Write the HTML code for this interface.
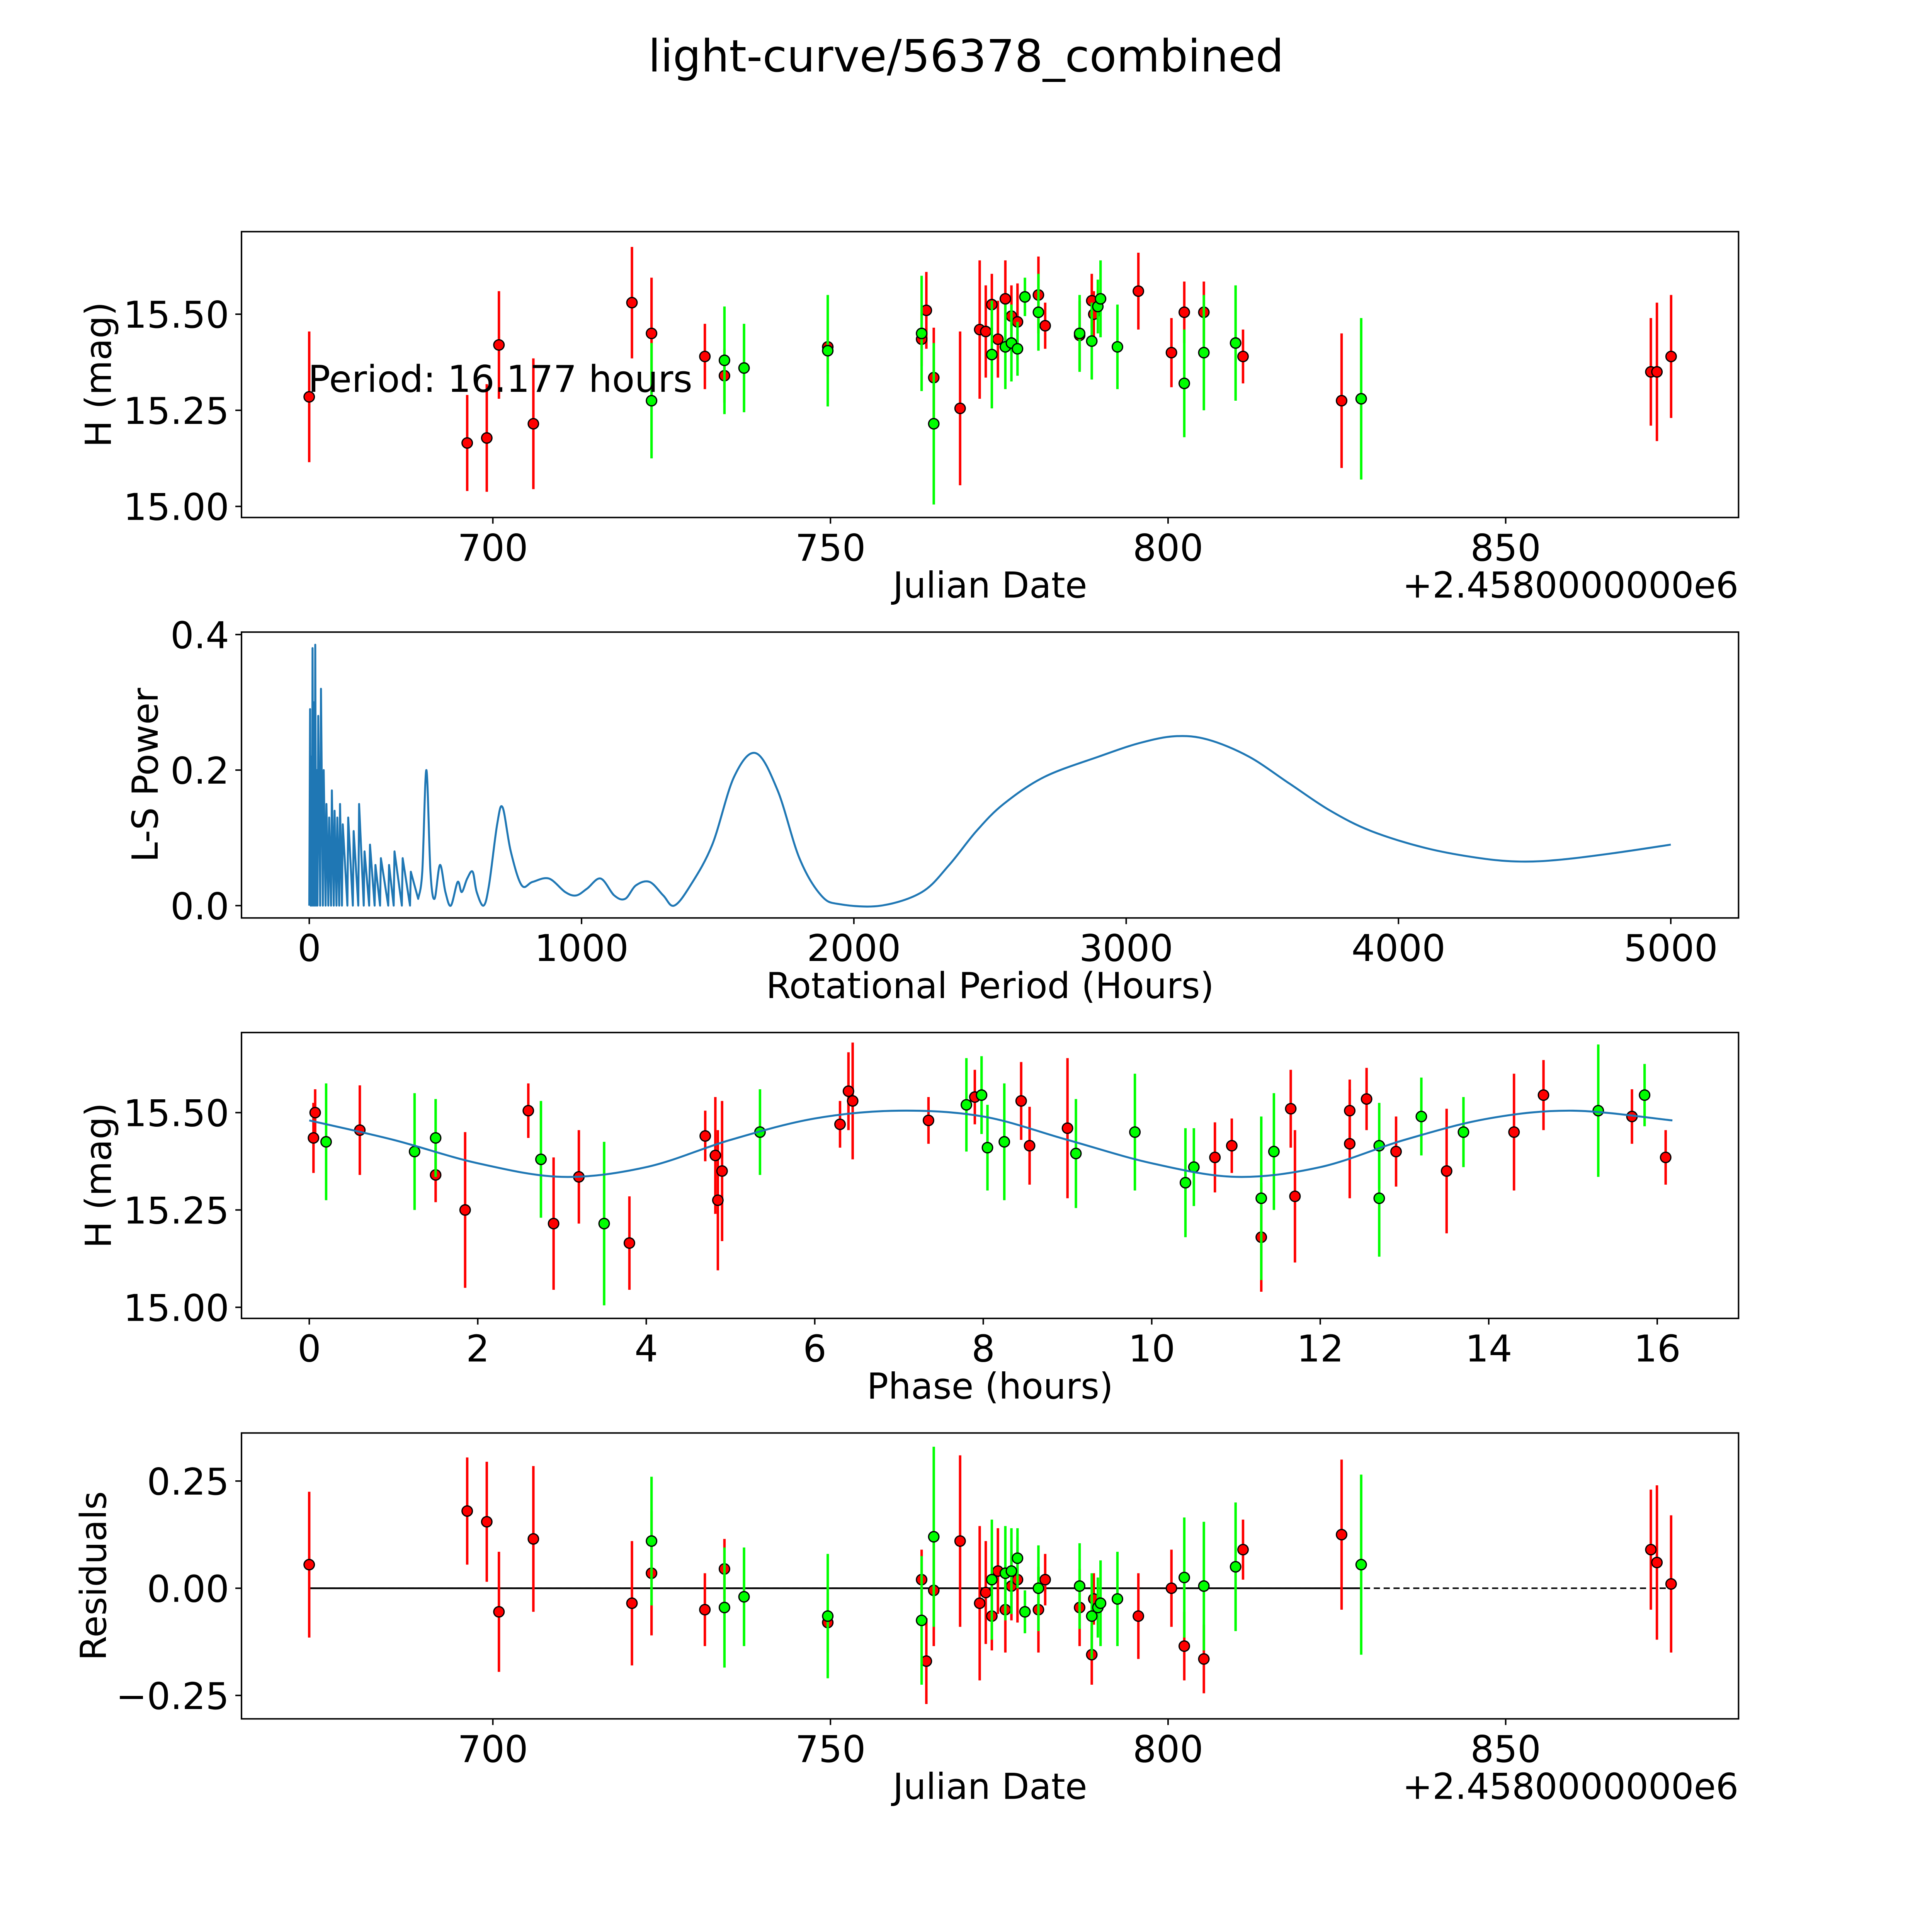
<!DOCTYPE html>
<html><head><meta charset="utf-8"><style>html,body{margin:0;padding:0;background:#fff;overflow:hidden}svg{display:block;width:100vw;height:100vh}</style></head>
<body>
<svg id="fig" viewBox="0 0 1568 1568" preserveAspectRatio="none" xmlns="http://www.w3.org/2000/svg" font-family="DejaVu Sans, Liberation Sans, sans-serif">
<rect width="1568" height="1568" fill="#fff"/>
<text x="784" y="58" font-size="36" text-anchor="middle">light-curve/56378_combined</text>
<g id="g1"></g><g id="g2"></g><g id="g3"></g><g id="g4"></g>
</svg>
<script>
// Panel 1 / 4 data: observations
const redDates=[672.8,696.2,699.1,700.9,706.0,720.6,723.5,731.4,734.3,749.6,763.5,764.2,765.3,769.2,772.1,773.0,773.9,774.8,775.9,776.8,777.7,780.8,781.8,786.9,788.7,789.0,795.6,800.5,802.4,805.3,811.1,825.7,871.5,872.4,874.5];
const redMags=[15.285,15.165,15.178,15.42,15.215,15.53,15.45,15.39,15.34,15.415,15.435,15.51,15.335,15.255,15.46,15.455,15.525,15.435,15.54,15.495,15.48,15.55,15.47,15.445,15.535,15.5,15.56,15.4,15.505,15.505,15.39,15.275,15.35,15.35,15.39];
const redErrs=[0.17,0.125,0.14,0.14,0.17,0.145,0.145,0.085,0.07,0.07,0.07,0.1,0.13,0.2,0.18,0.12,0.08,0.1,0.1,0.08,0.1,0.1,0.06,0.09,0.07,0.06,0.1,0.09,0.08,0.08,0.07,0.175,0.14,0.18,0.16];
const redResid=[0.055,0.18,0.155,-0.055,0.115,-0.035,0.035,-0.05,0.045,-0.08,0.02,-0.17,-0.005,0.11,-0.035,-0.01,-0.065,0.04,-0.05,0.005,0.02,-0.05,0.02,-0.045,-0.155,-0.025,-0.065,0,-0.135,-0.165,0.09,0.125,0.09,0.06,0.01];
const greenDates=[723.5,734.3,737.2,749.6,763.5,765.3,773.9,775.9,776.8,777.7,778.8,780.8,786.9,788.7,789.6,790.0,792.5,802.4,805.3,810.0,828.6];
const greenMags=[15.275,15.38,15.36,15.405,15.45,15.215,15.395,15.415,15.425,15.41,15.545,15.505,15.45,15.43,15.52,15.54,15.415,15.32,15.4,15.425,15.28];
const greenErrs=[0.15,0.14,0.115,0.145,0.15,0.21,0.14,0.11,0.1,0.07,0.05,0.1,0.1,0.1,0.07,0.1,0.11,0.14,0.15,0.15,0.21];
const greenResid=[0.11,-0.045,-0.02,-0.065,-0.075,0.12,0.02,0.035,0.04,0.07,-0.055,0,0.005,-0.065,-0.045,-0.035,-0.025,0.025,0.005,0.05,0.055];
// Panel 2: periodogram (spiky short-period part, smooth long-period part)
const spikePeriods=[0,3,5,7,10,12,15,17,20,22,25,28,30,33,40,43,50,53,60,63,70,73,80,83,90,93,100,103,110,113,120,123,140,143,160,163,180,183,200,203,220,223,240,243,260,263,290,293,310,313,340,343,370,373];
const spikePower=[0,0.29,0,0.22,0,0.38,0,0.3,0,0.385,0,0.2,0,0.28,0,0.32,0,0.2,0,0.15,0,0.13,0,0.17,0,0.14,0,0.13,0,0.15,0,0.12,0,0.13,0,0.11,0,0.15,0,0.08,0,0.09,0,0.06,0,0.07,0,0.06,0,0.08,0,0.07,0,0.05];
const smoothPeriods=[400,415,430,445,460,480,500,520,545,560,580,600,615,640,660,690,710,740,780,820,880,940,980,1020,1070,1120,1160,1200,1250,1300,1340,1400,1480,1560,1640,1720,1800,1880,1950,2100,2250,2350,2450,2550,2700,2900,3050,3180,3300,3450,3600,3750,3900,4100,4300,4450,4600,4800,5000];
const smoothPower=[0.01,0.05,0.2,0.05,0.01,0.06,0.02,0.0,0.035,0.02,0.04,0.05,0.02,0.0,0.03,0.12,0.145,0.08,0.03,0.035,0.04,0.02,0.015,0.025,0.04,0.015,0.01,0.03,0.035,0.015,0.0,0.03,0.09,0.19,0.225,0.17,0.07,0.015,0.002,0.0,0.02,0.06,0.11,0.15,0.19,0.22,0.24,0.25,0.245,0.22,0.18,0.14,0.11,0.085,0.07,0.065,0.068,0.078,0.09];
// Panel 3: phased
const redPhase=[0.05,0.07,0.6,1.5,1.85,2.6,2.9,3.2,3.8,4.7,4.82,4.85,4.9,6.3,6.4,6.45,7.35,7.9,8.45,8.55,9.0,10.75,10.95,11.3,11.65,11.7,12.35,12.35,12.55,12.9,13.5,14.3,14.65,15.7,16.1];
const redPhaseMag=[15.435,15.5,15.455,15.34,15.25,15.505,15.215,15.335,15.165,15.44,15.39,15.275,15.35,15.47,15.555,15.53,15.48,15.54,15.53,15.415,15.46,15.385,15.415,15.18,15.51,15.285,15.505,15.42,15.535,15.4,15.35,15.45,15.545,15.49,15.385];
const redPhaseErr=[0.09,0.06,0.115,0.07,0.2,0.07,0.17,0.12,0.12,0.065,0.15,0.18,0.18,0.06,0.1,0.15,0.06,0.07,0.1,0.1,0.18,0.09,0.07,0.14,0.1,0.17,0.08,0.14,0.08,0.09,0.16,0.15,0.09,0.07,0.07];
const greenPhase=[0.2,1.25,1.5,2.75,3.5,5.35,7.8,7.98,8.05,8.25,9.1,9.8,10.4,10.5,11.3,11.45,12.7,12.7,13.2,13.7,15.3,15.85];
const greenPhaseMag=[15.425,15.4,15.435,15.38,15.215,15.45,15.52,15.545,15.41,15.425,15.395,15.45,15.32,15.36,15.28,15.4,15.415,15.28,15.49,15.45,15.505,15.545];
const greenPhaseErr=[0.15,0.15,0.1,0.15,0.21,0.11,0.12,0.1,0.11,0.15,0.14,0.15,0.14,0.1,0.21,0.15,0.11,0.15,0.1,0.09,0.17,0.08];
const fitPhase=[0,1,2,3,4,5,6,7,8,9,10,11,12,13,14,15,16.18];
const fitMag=[15.48,15.43,15.37,15.335,15.36,15.43,15.485,15.505,15.49,15.43,15.37,15.335,15.36,15.43,15.485,15.505,15.48];

const NS='http://www.w3.org/2000/svg';
function mk(parent,tag,attrs,txt){const e=document.createElementNS(NS,tag);for(const k in attrs)e.setAttribute(k,attrs[k]);if(txt!==undefined)e.textContent=txt;parent.appendChild(e);return e;}
function lin(d0,d1,p0,p1){return v=>p0+(v-d0)*(p1-p0)/(d1-d0);}
function smooth(P){let d='';for(let i=0;i<P.length-1;i++){const p0=P[Math.max(0,i-1)],p1=P[i],p2=P[i+1],p3=P[Math.min(P.length-1,i+2)];
  d+=` C${(p1[0]+(p2[0]-p0[0])/6).toFixed(2)} ${(p1[1]+(p2[1]-p0[1])/6).toFixed(2)} ${(p2[0]-(p3[0]-p1[0])/6).toFixed(2)} ${(p2[1]-(p3[1]-p1[1])/6).toFixed(2)} ${p2[0].toFixed(2)} ${p2[1].toFixed(2)}`;}return d;}

const TICK_FS=30, LAB_FS=29;
function axesFrame(g,L,T,R,B,xt,xf,yt,yf,xlab,ylab,name,offset,ylabX){
  const f=mk(g,'rect',{x:L,y:T,width:R-L,height:B-T,fill:'none',stroke:'#000','stroke-width':1.2});
  
  
  xt.forEach(v=>{const x=xf(v);mk(g,'line',{x1:x,x2:x,y1:B,y2:B+5,stroke:'#000','stroke-width':1.2});
    const t=mk(g,'text',{x:x,y:B+35,'font-size':TICK_FS,'text-anchor':'middle'},String(v));
    
    });
  yt.forEach(v=>{const y=yf(v.v);mk(g,'line',{x1:L-5,x2:L,y1:y,y2:y,stroke:'#000','stroke-width':1.2});
    const t=mk(g,'text',{x:L-10,y:y+11,'font-size':TICK_FS,'text-anchor':'end'},v.s);
    
    });
  const xl=mk(g,'text',{x:(L+R)/2,y:B+65,'font-size':LAB_FS,'text-anchor':'middle'},xlab);
  
  
  const yl=mk(g,'text',{x:ylabX,y:(T+B)/2,'font-size':LAB_FS,'text-anchor':'middle',transform:`rotate(-90 ${ylabX} ${(T+B)/2})`},ylab);
  
  
  if(offset){const o=mk(g,'text',{x:R,y:B+65,'font-size':LAB_FS,'text-anchor':'end'},offset);
    
    }
}
function errPts(g,xs,ys,es,col,xf,yf,name){
  xs.forEach((x,i)=>{mk(g,'line',{x1:xf(x),x2:xf(x),y1:yf(ys[i]-es[i]),y2:yf(ys[i]+es[i]),stroke:col,'stroke-width':2});});
  xs.forEach((x,i)=>{const c=mk(g,'circle',{cx:xf(x),cy:yf(ys[i]),r:4.2,fill:col,stroke:'#000','stroke-width':1});
    
    });
}
const jdTicks=[700,750,800,850];
const magTicks=[{v:15,s:'15.00'},{v:15.25,s:'15.25'},{v:15.5,s:'15.50'}];
// Panel 1
(function(){const g=document.getElementById('g1');
  const L=196,R=1411,T=188,B=420;
  const xf=lin(700,850,400,1222),yf=lin(15,15.5,411,255);
  axesFrame(g,L,T,R,B,jdTicks,xf,magTicks,yf,'Julian Date','H (mag)','lightcurve','+2.4580000000e6',90);
  errPts(g,redDates,redMags,redErrs,'#ff0000',xf,yf,'red-observation');
  errPts(g,greenDates,greenMags,greenErrs,'#00ff00',xf,yf,'green-observation');
  const t=mk(g,'text',{x:250,y:318,'font-size':30},'Period: 16.177 hours');
  
  
})();
// Panel 2
(function(){const g=document.getElementById('g2');
  const L=196,R=1411,T=513,B=745;
  const xf=lin(0,5000,251,1356),yf=lin(0,0.4,735,515);
  axesFrame(g,L,T,R,B,[0,1000,2000,3000,4000,5000],xf,[{v:0,s:'0.0'},{v:0.2,s:'0.2'},{v:0.4,s:'0.4'}],yf,'Rotational Period (Hours)','L-S Power','periodogram',null,128);
  let d=spikePeriods.map((p,i)=>(i?'L':'M')+xf(p).toFixed(2)+' '+yf(spikePower[i]).toFixed(2)).join(' ');
  const P=smoothPeriods.map((p,i)=>[xf(p),yf(smoothPower[i])]);
  d+=' L'+P[0][0].toFixed(2)+' '+P[0][1].toFixed(2)+smooth(P);
  const p=mk(g,'path',{d:d,fill:'none',stroke:'#1f77b4','stroke-width':1.6,'stroke-linejoin':'round'});
  
  
})();
// Panel 3
(function(){const g=document.getElementById('g3');
  const L=196,R=1411,T=838,B=1070;
  const xf=lin(0,16,251,1345),yf=lin(15,15.5,1061,903);
  axesFrame(g,L,T,R,B,[0,2,4,6,8,10,12,14,16],xf,magTicks,yf,'Phase (hours)','H (mag)','phased',null,90);
  errPts(g,redPhase,redPhaseMag,redPhaseErr,'#ff0000',xf,yf,'red-phased-observation');
  errPts(g,greenPhase,greenPhaseMag,greenPhaseErr,'#00ff00',xf,yf,'green-phased-observation');
  const P=fitPhase.map((v,i)=>[xf(v),yf(fitMag[i])]);
  const d='M'+P[0][0]+' '+P[0][1]+smooth(P);
  const c=mk(g,'path',{d:d,fill:'none',stroke:'#1f77b4','stroke-width':1.6});
  
  
})();
// Panel 4
(function(){const g=document.getElementById('g4');
  const L=196,R=1411,T=1163,B=1395;
  const xf=lin(700,850,400,1222),yf=lin(-0.25,0.25,1376,1202);
  axesFrame(g,L,T,R,B,jdTicks,xf,[{v:-0.25,s:'\u22120.25'},{v:0,s:'0.00'},{v:0.25,s:'0.25'}],yf,'Julian Date','Residuals','residuals','+2.4580000000e6',86);
  const allD=redDates.concat(greenDates);
  const minD=Math.min(...allD),maxD=Math.max(...allD),maxG=Math.max(...greenDates);
  const z1=mk(g,'line',{x1:xf(minD),x2:xf(maxD),y1:yf(0),y2:yf(0),stroke:'#000','stroke-width':1.2,'stroke-dasharray':'5 3'});
  
  
  const z2=mk(g,'line',{x1:xf(minD),x2:xf(maxG),y1:yf(0),y2:yf(0),stroke:'#000','stroke-width':1.4});
  
  
  errPts(g,redDates,redResid,redErrs,'#ff0000',xf,yf,'red-residual');
  errPts(g,greenDates,greenResid,greenErrs,'#00ff00',xf,yf,'green-residual');
})();
</script>
</body></html>
